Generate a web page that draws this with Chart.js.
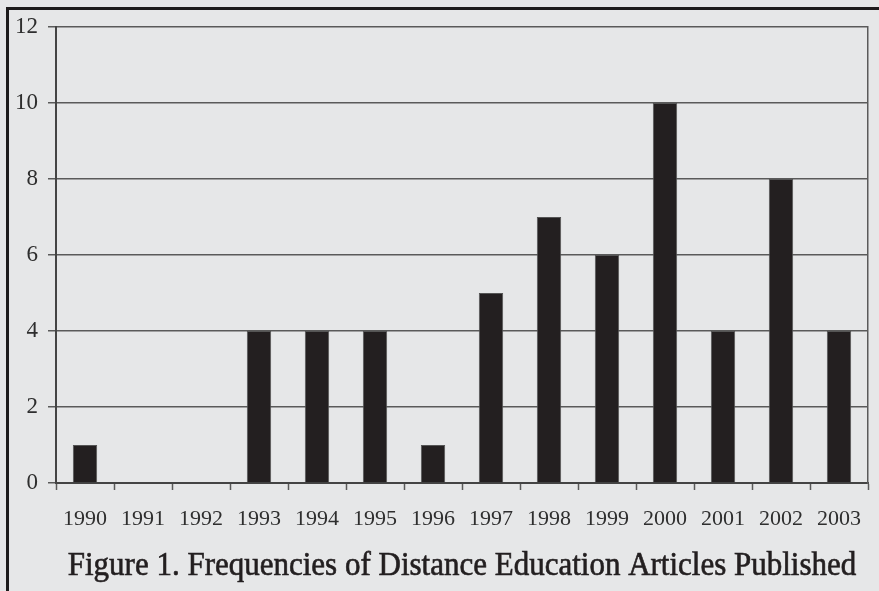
<!DOCTYPE html>
<html>
<head>
<meta charset="utf-8">
<script src="https://cdn.jsdelivr.net/npm/chart.js@4.4.1/dist/chart.umd.min.js"></script>
<style>
  html, body { margin: 0; padding: 0; background: #e6e7e8; }
  #wrap { position: relative; width: 879px; height: 591px; overflow: hidden; }
  #frame {
    position: absolute; left: 6px; top: 7px; width: 900px; height: 620px;
    border-left: 3px solid #1e1c1d; border-top: 3px solid #1e1c1d;
  }
  canvas { position: absolute; left: 0; top: 0; }
</style>
</head>
<body>
<div id="wrap">
  <div id="frame"></div>
  <canvas id="chart" width="879" height="591"></canvas>
</div>
<script>
// Frequencies of distance education articles per year
const years  = ['1990', '1991', '1992', '1993', '1994', '1995', '1996',
                '1997', '1998', '1999', '2000', '2001', '2002', '2003'];
const counts = [1, 0, 0, 4, 4, 4, 1, 5, 7, 6, 10, 4, 8, 4];
const yTicks = [0, 2, 4, 6, 8, 10, 12];
const caption = 'Figure 1. Frequencies of Distance Education Articles Published';

const SERIF = '"Liberation Serif", "Times New Roman", serif';
const INK   = '#231f20';
const GRID  = '#5a5a5a';

// caption under the plot, centred on the plot area; slightly taller than wide like the scan
const captionPlugin = {
  id: 'caption',
  afterDraw(chart) {
    const { ctx, chartArea } = chart;
    ctx.save();
    ctx.font = '31px ' + SERIF;
    ctx.fillStyle = INK;
    ctx.strokeStyle = INK;
    ctx.lineWidth = 0.6;
    ctx.textAlign = 'center';
    ctx.textBaseline = 'alphabetic';
    ctx.translate((chartArea.left + chartArea.right) / 2, chart.height - 16);
    ctx.scale(1, 1.08);
    ctx.fillText(caption, 0, 0);
    ctx.strokeText(caption, 0, 0);
    ctx.restore();
  }
};

new Chart(document.getElementById('chart').getContext('2d'), {
  type: 'bar',
  data: {
    labels: years,
    datasets: [{
      data: counts,
      backgroundColor: INK,
      borderColor: '#555555',
      borderWidth: 1,
      barPercentage: 0.42,
      categoryPercentage: 1.0,
    }]
  },
  options: {
    responsive: false,
    animation: false,
    layout: { padding: { top: 27, right: 11, left: 0, bottom: 0 } },
    plugins: {
      legend: { display: false },
      tooltip: { enabled: false },
      title: { display: false },
    },
    scales: {
      x: {
        grid: {
          offset: true,
          drawOnChartArea: false,
          drawTicks: true,
          tickLength: 7,
          tickColor: GRID,
          tickWidth: 1.5,
        },
        border: { color: '#444', width: 2 },
        ticks: {
          color: '#2e2e2e',
          font: { family: SERIF, size: 22 },
          padding: 16,
          maxRotation: 0,
          autoSkip: false,
        },
        afterFit: s => { s.height = 108; },
      },
      y: {
        min: 0,
        max: 12,
        afterBuildTicks: s => { s.ticks = yTicks.map(v => ({ value: v })); },
        grid: {
          color: GRID,
          lineWidth: 1.5,
          tickLength: 8,
          tickColor: GRID,
        },
        border: { color: '#444', width: 2 },
        ticks: {
          color: '#2e2e2e',
          font: { family: SERIF, size: 23 },
          padding: 10,
        },
        afterFit: s => { s.width = 56; },
      },
      yRight: {
        position: 'right',
        min: 0,
        max: 12,
        grid: { drawOnChartArea: false, drawTicks: false },
        border: { color: GRID, width: 1.5 },
        ticks: { display: false },
        afterFit: s => { s.width = 0; },
      },
    }
  },
  plugins: [captionPlugin]
});
</script>
</body>
</html>
